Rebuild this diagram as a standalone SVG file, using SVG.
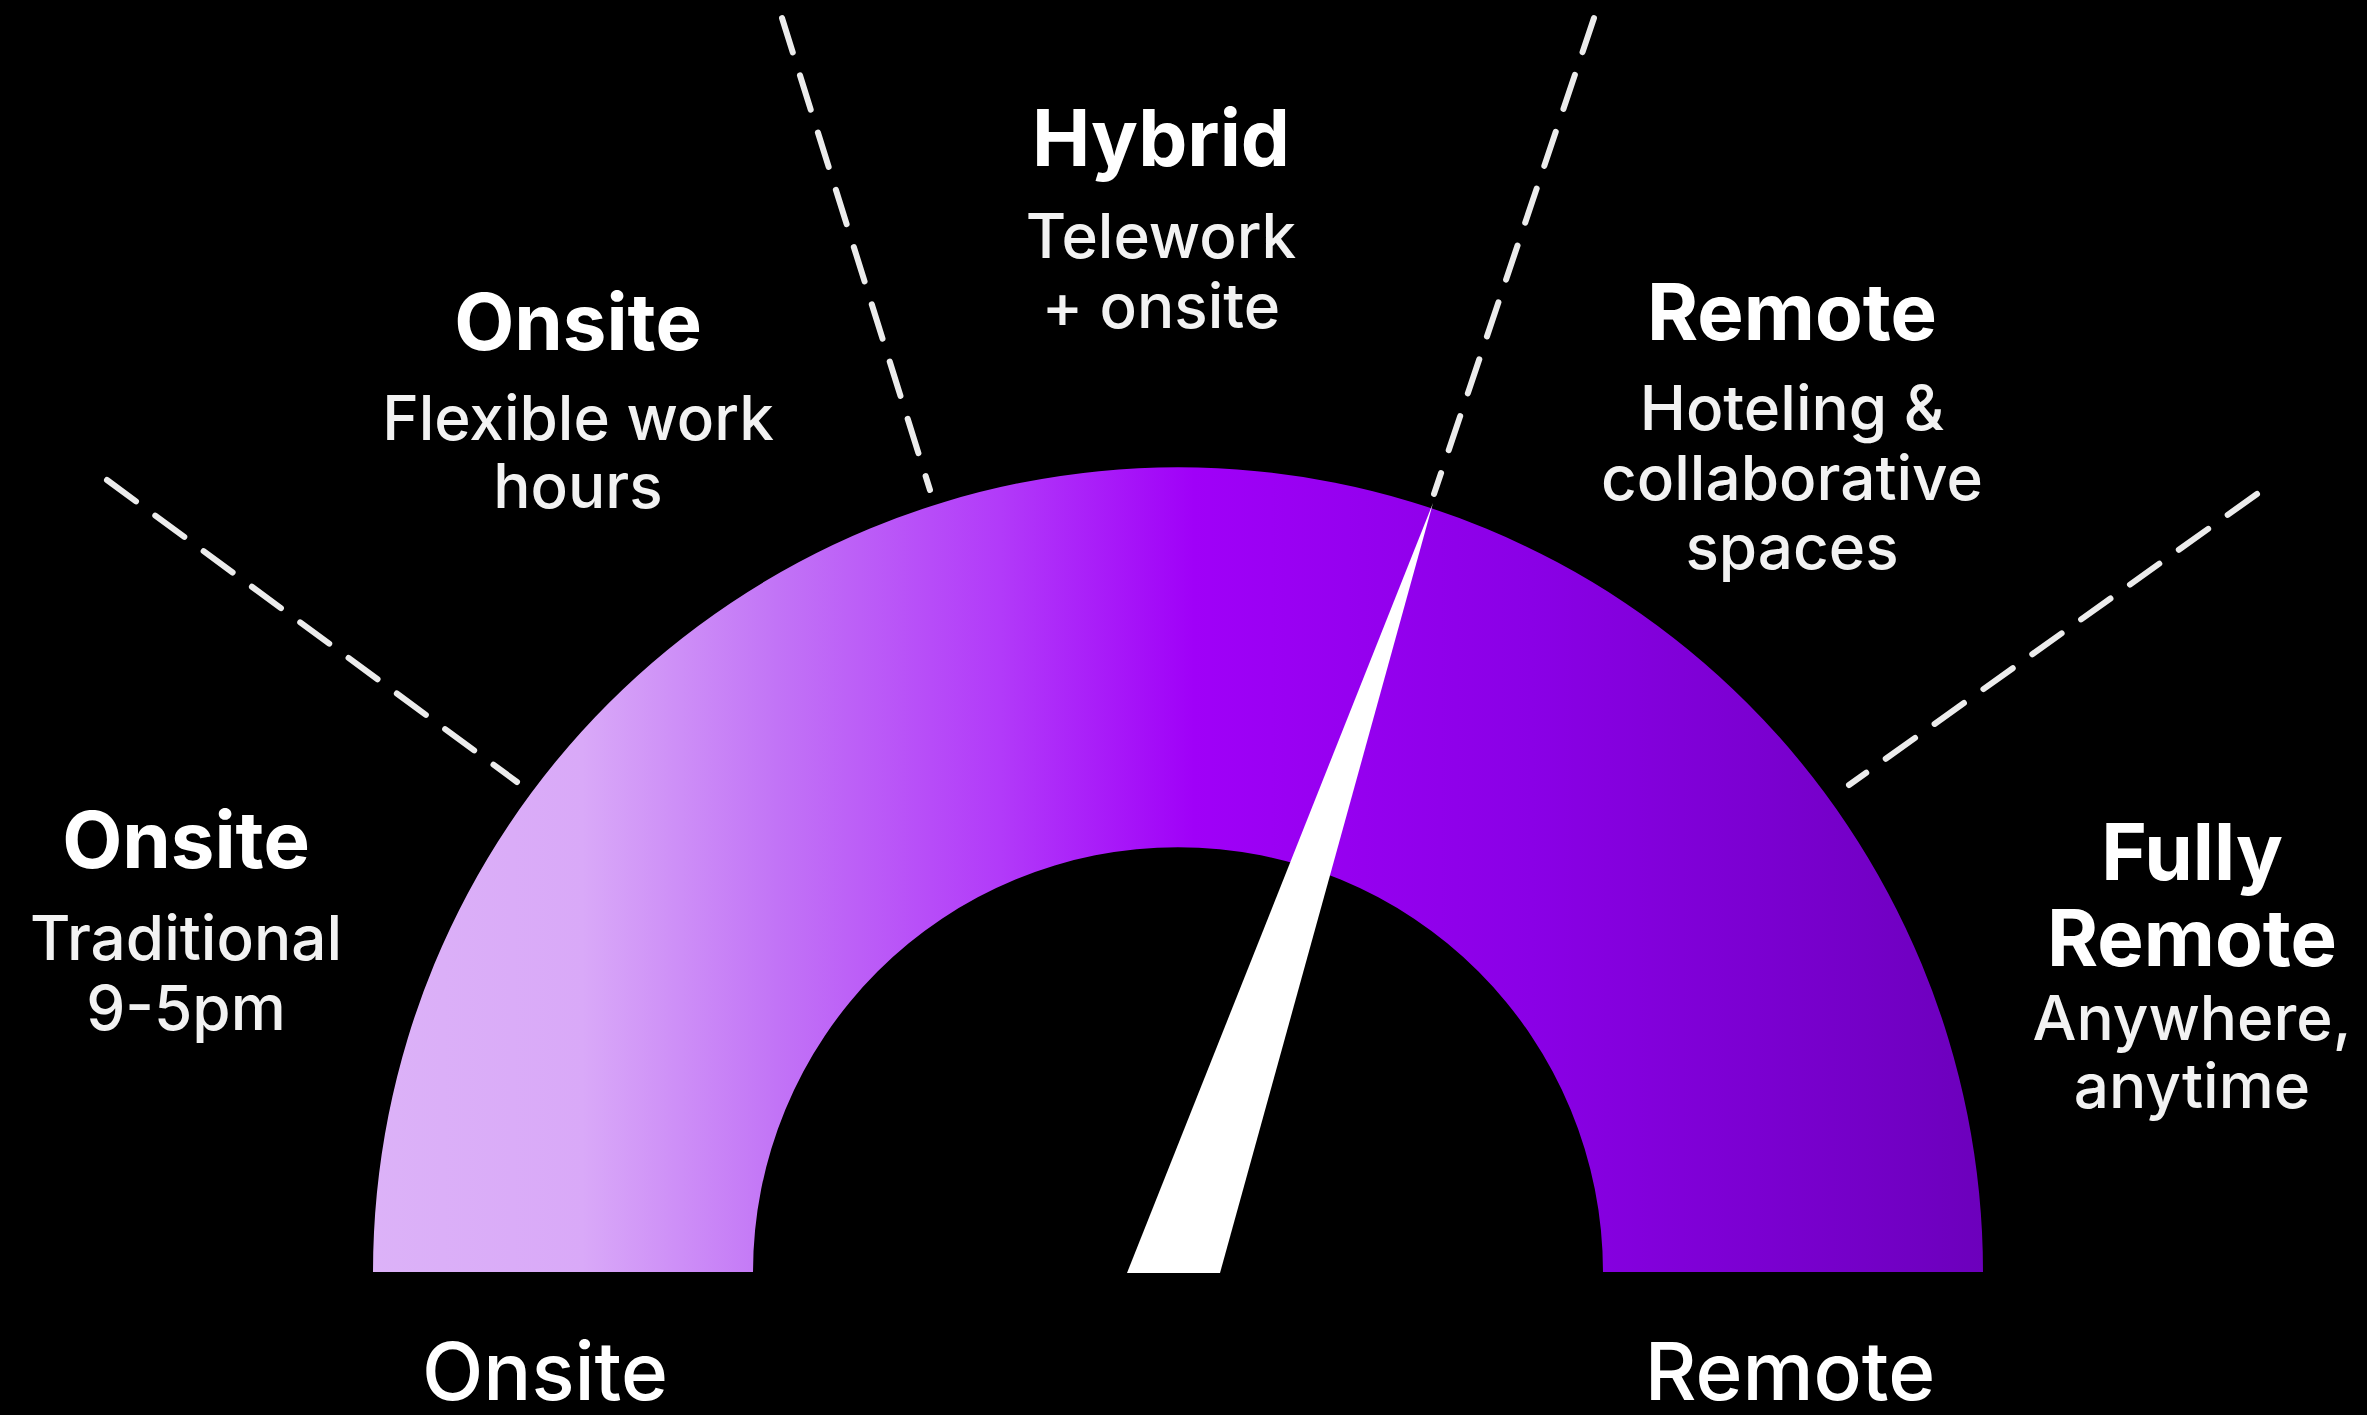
<svg xmlns="http://www.w3.org/2000/svg" width="2367" height="1415" viewBox="0 0 2367 1415">
  <defs>
    <linearGradient id="arcGrad" gradientUnits="userSpaceOnUse" x1="373" y1="0" x2="1983" y2="0">
      <stop offset="0" stop-color="#dcb2f8"/>
      <stop offset="0.13" stop-color="#d9a9f8"/>
      <stop offset="0.25" stop-color="#c274f6"/>
      <stop offset="0.39" stop-color="#b23af9"/>
      <stop offset="0.51" stop-color="#a000f8"/>
      <stop offset="0.72" stop-color="#8a00e6"/>
      <stop offset="1" stop-color="#6c00bc"/>
    </linearGradient>
  </defs>
  <style>
    .head { font-family: Inter, "Liberation Sans", sans-serif; font-weight: 700; font-size: 78px; fill: #ffffff; text-anchor: middle; }
    .body { font-family: Inter, "Liberation Sans", sans-serif; font-weight: 500; font-size: 62px; fill: #f2f2f2; text-anchor: middle; }
    .axis { font-family: Inter, "Liberation Sans", sans-serif; font-weight: 500; font-size: 80px; fill: #ffffff; text-anchor: middle; }
    .dash { stroke: #ececec; stroke-width: 6; stroke-dasharray: 36 24; stroke-linecap: round; fill: none; }
  </style>
  <rect x="0" y="0" width="2367" height="1415" fill="#000000"/>

  <g id="gauge">
    <path d="M 373 1272 A 805 805 0 0 1 1983 1272 L 1603 1272 A 425 425 0 0 0 753 1272 Z" fill="url(#arcGrad)"/>
  </g>

  <g id="connectors">
    <line class="dash" x1="107" y1="480" x2="517" y2="782"/>
    <line class="dash" x1="782" y1="18" x2="930" y2="490"/>
    <line class="dash" x1="1594" y1="18" x2="1434" y2="494"/>
    <line class="dash" x1="2257" y1="494" x2="1849" y2="785"/>
  </g>

  <g id="needle">
    <polygon points="1127,1273 1220,1273 1433,503" fill="#ffffff"/>
  </g>

  <g id="node-onsite-traditional">
    <text class="head" x="186" y="868">Onsite</text>
    <text class="body" x="186" y="960">Traditional</text>
    <text class="body" x="186" y="1030">9-5pm</text>
  </g>

  <g id="node-onsite-flexible">
    <text class="head" x="578" y="350">Onsite</text>
    <text class="body" x="578" y="440">Flexible work</text>
    <text class="body" x="578" y="508">hours</text>
  </g>

  <g id="node-hybrid">
    <text class="head" x="1161" y="166">Hybrid</text>
    <text class="body" x="1161" y="258">Telework</text>
    <text class="body" x="1161" y="328">+ onsite</text>
  </g>

  <g id="node-remote">
    <text class="head" x="1792" y="340">Remote</text>
    <text class="body" x="1792" y="430">Hoteling &amp;</text>
    <text class="body" x="1792" y="500">collaborative</text>
    <text class="body" x="1792" y="569">spaces</text>
  </g>

  <g id="node-fully-remote">
    <text class="head" x="2192" y="880">Fully</text>
    <text class="head" x="2192" y="966">Remote</text>
    <text class="body" x="2192" y="1040">Anywhere,</text>
    <text class="body" x="2192" y="1108">anytime</text>
  </g>

  <g id="axis-labels">
    <text class="axis" x="545" y="1400">Onsite</text>
    <text class="axis" x="1790" y="1400">Remote</text>
  </g>
</svg>
